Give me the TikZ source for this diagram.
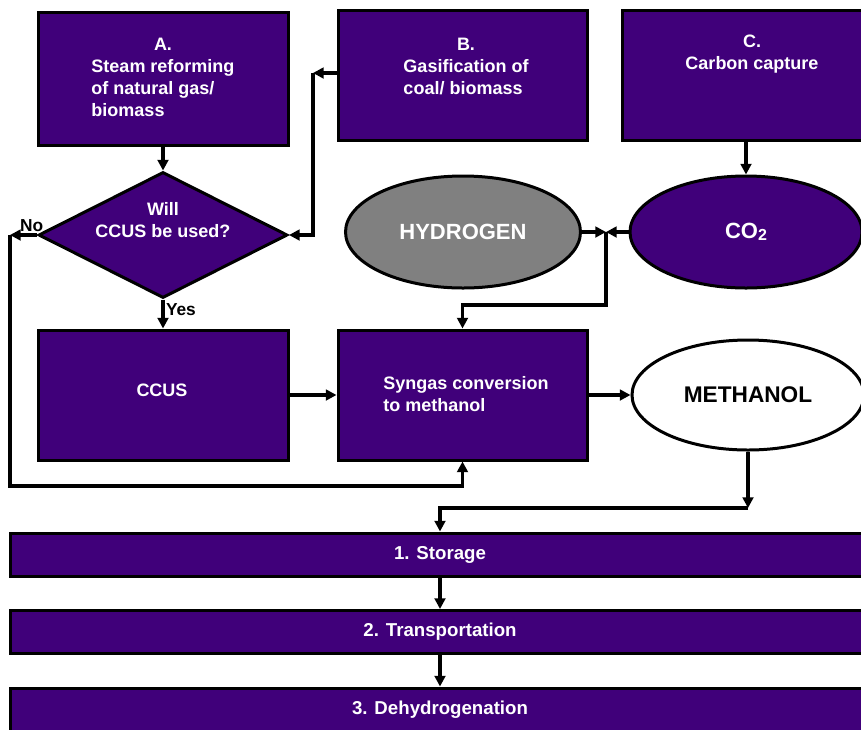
\documentclass[tikz,border=0pt]{standalone}
\usepackage{fontspec}
\setmainfont{Liberation Sans}
\usetikzlibrary{shapes.geometric,arrows.meta,positioning}

\definecolor{boxpurple}{RGB}{64,0,122}
\definecolor{hydrogray}{RGB}{128,128,128}
\newcommand{\pxu}{0.75pt}

\tikzset{
  procbox/.style={draw=black, line width=2.25pt, fill=boxpurple, inner sep=0pt},
  boxlabel/.style={text=white, font=\bfseries\fontsize{13.5}{16.5}\selectfont, inner sep=0pt},
  gasoval/.style={ellipse, draw=black, line width=2.25pt, inner sep=0pt,
    font=\bfseries\fontsize{16.5}{19}\selectfont},
  barbox/.style={procbox, minimum width=860*\pxu, minimum height=43*\pxu,
    text=white, font=\bfseries\fontsize{14}{16}\selectfont},
  link/.style={line width=2.5pt, -{Triangle[length=8pt,width=8pt]}},
  answer/.style={font=\bfseries\fontsize{13}{14}\selectfont, inner sep=1pt}
}

\begin{document}
\begin{tikzpicture}[x=0.75pt, y=-0.75pt]
        \clip (0,0) rectangle (861,729);

        % Sources
        \node[procbox, minimum width=250*\pxu, minimum height=133*\pxu] (srbox) at (163,78.5) {};
        \node[boxlabel, anchor=north] (srtext) at (163,34.5)
            {\begin{tabular}{@{}l@{}}\multicolumn{1}{c}{A.}\\Steam reforming\\of natural gas/\\biomass\end{tabular}};
        \node[procbox, minimum width=249*\pxu, minimum height=130*\pxu] (gasbox) at (462.5,75) {};
        \node[boxlabel, anchor=north] (gastext) at (466,34.5)
            {\begin{tabular}{@{}l@{}}\multicolumn{1}{c}{B.}\\Gasification of\\coal/ biomass\end{tabular}};
        \node[procbox, minimum width=260*\pxu, minimum height=130*\pxu] (capbox) at (752,75) {};
        \node[boxlabel, anchor=north, align=center] (captext) at (752,34.5) {C.\\Carbon capture};

        % Decision
        \node[diamond, procbox, minimum width=249*\pxu, minimum height=126*\pxu] (ccusq) at (163,235) {};
        \node[boxlabel, align=center] (ccustext) at (163,220) {Will\\CCUS be used?};

        % Gases
        \node[gasoval, fill=hydrogray, text=white, minimum width=235*\pxu, minimum height=112*\pxu] (hydrogen) at (463,232) {HYDROGEN};
        \node[gasoval, fill=boxpurple, text=white, minimum width=232*\pxu, minimum height=112*\pxu] (co2) at (746,232)
            {CO\raisebox{-1.5pt}{\fontsize{12}{12}\selectfont 2}};

        % Conversion
        \node[procbox, minimum width=250*\pxu, minimum height=130*\pxu] (ccusbox) at (163,395) {};
        \node[boxlabel] (ccustag) at (162,390) {CCUS};
        \node[procbox, minimum width=249*\pxu, minimum height=130*\pxu] (syngas) at (462.5,395) {};
        \node[boxlabel, align=left] (syntext) at (466,394) {Syngas conversion\\to methanol};
        \node[gasoval, fill=white, text=black, font=\bfseries\fontsize{17}{19}\selectfont,
            minimum width=232*\pxu, minimum height=110*\pxu] (methanol) at (748,395) {METHANOL};

        % Steps
        \node[barbox] (storage) at (440,554.5) {1. Storage};
        \node[barbox] (transport) at (440,632) {2. Transportation};
        \node[barbox] (dehydro) at (440,709.5) {3. Dehydrogenation};

        % Connectors
        \coordinate (bturn) at (313,73);
        \coordinate (noturn) at (10,235);
        \coordinate (nolow) at (10,486);
        \coordinate (junc) at (606,232);
        \coordinate (jlow) at (606,305);
        \coordinate (mlow) at (748,508);

        \draw[link] (srbox.south) -- (ccusq.north);
        \draw[link] (gasbox.west |- bturn) -- (bturn);
        \draw[link] (bturn) |- (ccusq.east);
        \draw[link] (ccusq.south) -- node[answer, right, pos=0.35] {Yes} (ccusbox.north);
        \draw[link] (ccusq.west) -- node[answer, above, pos=0.2] {No} (noturn);
        \draw[link] (noturn) -- (nolow) -| (syngas.south);
        \draw[link] (co2.north |- capbox.south) -- (co2.north);
        \draw[link] (hydrogen.east) -- (junc);
        \draw[link] (co2.west) -- (junc);
        \draw[link] (junc) -- (jlow) -| (syngas.north);
        \draw[link] (ccusbox.east) -- (syngas.west);
        \draw[link] (syngas.east) -- (methanol.west);
        \draw[link] (methanol.south) -- (mlow);
        \draw[link] (mlow) -| (storage.north);
        \draw[link] (storage.south) -- (transport.north);
        \draw[link] (transport.south) -- (dehydro.north);
    \end{tikzpicture}
\end{document}
